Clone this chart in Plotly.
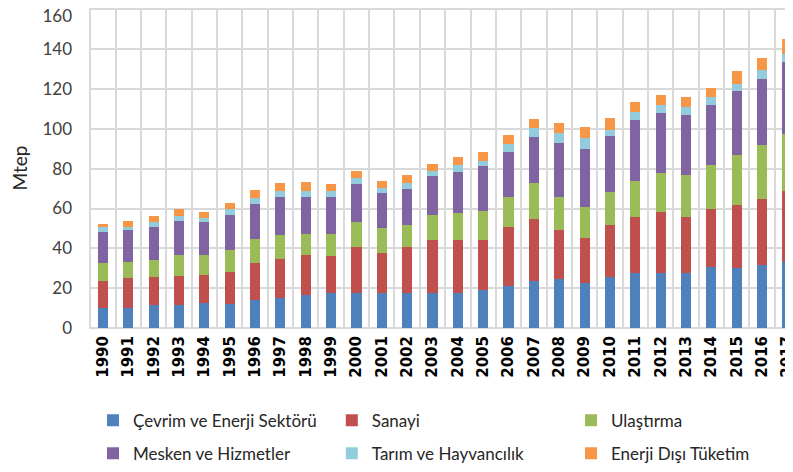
import plotly.graph_objects as go

years = [str(y) for y in range(1990, 2018)]

cevrim = [9.9, 9.9, 11.6, 11.6, 12.4, 12.1, 14.1, 14.9, 16.6, 17.5, 17.5, 17.8, 17.5, 17.5,
          17.5, 19.1, 21.1, 23.8, 24.5, 22.5, 25.5, 27.8, 27.8, 27.8, 30.8, 30.0, 31.4, 33.1]
sanayi = [13.7, 15.1, 14.2, 14.6, 14.1, 16.2, 18.4, 19.8, 20.0, 18.7, 23.1, 20.1, 23.1, 26.8,
          26.8, 25.2, 29.6, 31.0, 24.8, 22.9, 26.0, 27.7, 30.7, 27.7, 28.9, 31.9, 33.4, 35.5]
ulastirma = [8.9, 7.9, 8.4, 10.5, 10.2, 10.9, 12.1, 12.1, 10.7, 10.9, 12.4, 12.3, 10.9, 12.6,
             13.7, 14.7, 15.1, 18.0, 16.3, 15.6, 16.6, 18.1, 19.3, 21.1, 22.0, 25.1, 26.9, 29.0]
mesken = [15.7, 16.4, 16.3, 16.8, 16.3, 17.7, 17.8, 19.0, 18.5, 18.7, 19.3, 17.6, 18.3, 19.2,
          20.3, 22.2, 22.4, 22.9, 27.3, 28.9, 28.2, 30.7, 30.2, 30.6, 30.5, 31.9, 33.4, 35.9]
tarim = [2.3, 1.5, 2.5, 2.5, 2.2, 3.0, 2.9, 2.8, 2.8, 2.8, 3.0, 2.5, 3.0, 2.6,
         3.7, 2.8, 4.4, 4.8, 5.1, 5.5, 3.3, 4.0, 4.2, 3.8, 3.7, 3.7, 4.4, 3.9]
enerji_disi = [1.8, 3.0, 3.0, 3.9, 3.0, 2.8, 3.8, 4.2, 4.5, 3.7, 3.7, 3.7, 3.8, 3.7,
               3.9, 4.4, 4.5, 4.5, 5.0, 5.6, 5.9, 5.1, 5.0, 5.1, 4.7, 6.4, 6.2, 7.5]

series_names = ["Çevrim ve Enerji Sektörü", "Sanayi", "Ulaştırma",
                "Mesken ve Hizmetler", "Tarım ve Hayvancılık", "Enerji Dışı Tüketim"]
series_values = [cevrim, sanayi, ulastirma, mesken, tarim, enerji_disi]
series_colors = ["#4F81BD", "#C0504D", "#9BBB59", "#8064A2", "#93CDDD", "#F79646"]

y_ticks = list(range(0, 161, 20))
Y_RANGE = [0, 160.7]

FONT = "Lato, 'Open Sans', sans-serif"

# legend grid placement (3 columns x 2 rows), paper coordinates
legend_cols = [0.0057, 0.3449, 0.6847]
legend_rows = [-0.29, -0.393]

fig = go.Figure()
layout_legends = {}
for i, (name, vals, color) in enumerate(zip(series_names, series_values, series_colors)):
    key = "legend" if i == 0 else f"legend{i + 1}"
    fig.add_trace(go.Bar(x=years, y=vals, name=name,
                         marker=dict(color=color, line=dict(width=0)), legend=key))
    layout_legends[key] = dict(
        orientation="h", xanchor="left", x=legend_cols[i % 3],
        yanchor="middle", y=legend_rows[i // 3],
        font=dict(family=FONT, size=17, color="#262626"),
        bgcolor="rgba(0,0,0,0)",
    )

# empty helper trace so the overlay axis carrying the top tick is rendered
fig.add_trace(go.Scatter(x=[], y=[], yaxis="y2", showlegend=False, hoverinfo="skip"))

tick_font = dict(family=FONT, size=17, color="#404040")

# page body has an 8px margin, so the figure is offset accordingly
fig.update_layout(
    width=785, height=464,
    margin=dict(l=81, r=0, t=0, b=144, autoexpand=False),
    paper_bgcolor="white", plot_bgcolor="white",
    barmode="stack", bargap=0.6,
    showlegend=True,
    xaxis=dict(
        type="category", range=[-0.55, 27.22], tickson="boundaries",
        showgrid=True, gridcolor="#D9D9D9", gridwidth=2,
        tickangle=-90, ticks="", ticklabelstandoff=4,
        tickfont=dict(family="'DejaVu Sans', sans-serif", size=15, color="#000000", weight="bold"),
        showline=False, zeroline=False,
    ),
    yaxis=dict(
        range=Y_RANGE, tickvals=y_ticks[:-1], ticktext=[str(v) for v in y_ticks[:-1]],
        showgrid=True, gridcolor="#D9D9D9", gridwidth=2,
        zeroline=True, zerolinecolor="#D9D9D9", zerolinewidth=2,
        ticks="", ticklabelstandoff=16,
        tickfont=tick_font,
        title=dict(text="Mtep", font=dict(family=FONT, size=19, color="#262626"), standoff=13),
    ),
    # top tick sits at the page edge; its label is nudged down so it stays visible
    yaxis2=dict(
        overlaying="y", anchor="x", side="left", range=Y_RANGE,
        tickvals=y_ticks[-1:], ticktext=[str(v) for v in y_ticks[-1:]],
        showgrid=True, gridcolor="#D9D9D9", gridwidth=2, zeroline=False,
        ticks="", ticklabelstandoff=16, ticklabelshift=7, ticklabeloverflow="allow",
        tickfont=tick_font,
    ),
    **layout_legends,
)

fig.write_html("out.html")
